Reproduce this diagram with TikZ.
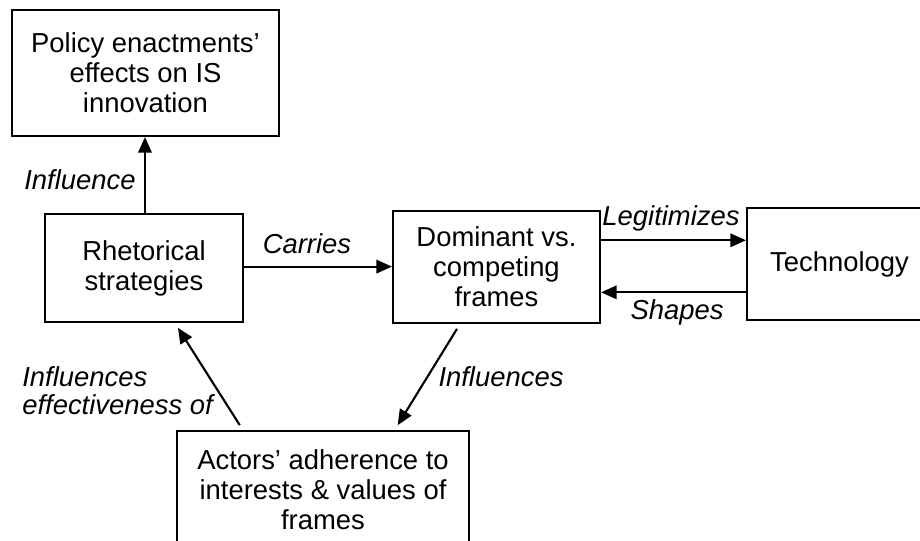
\documentclass[tikz,border=0pt]{standalone}
\usepackage{fontspec}
\setmainfont{Liberation Sans}
\usetikzlibrary{arrows.meta,positioning}
\tikzset{
    every node/.style={
        font=\fontsize{19.5}{21.3}\selectfont
    },
    block/.style={
        shape=rectangle,
        draw,
        line width=1.5pt,
        inner sep=0pt,
        align=center
    },
    lbl/.style={
        font=\fontsize{19.5}{20}\selectfont\itshape,
        inner sep=0pt
    },
    arr/.style={
        line width=1.5pt,
        -{Triangle[length=11pt,width=9.5pt]}
    }
}

\begin{document}
\begin{tikzpicture}[x=0.025cm,y=-0.025cm]
			\useasboundingbox (0,0) rectangle (920,540);
			\clip (0,0) rectangle (920,540);
			\node (policy) at (145.5, 73) [block, minimum width=6.675cm, minimum height=3.15cm] {Policy enactments'\\effects on IS\\innovation};
			\node (rhet) at (144, 268) [block, minimum width=4.95cm, minimum height=2.7cm] {Rhetorical\\strategies};
			\node (dom) at (496.5, 267) [block, minimum width=5.175cm, minimum height=2.8cm] {Dominant vs.\\competing\\frames};
			\node (tech) at (839.5, 264) [block, minimum width=4.625cm, minimum height=2.8cm] {Technology};
			\node (act) at (323, 490) [block, minimum width=7.3cm, minimum height=2.95cm] {Actors' adherence to\\interests \& values of\\frames};
			
			\coordinate (cr) at ([yshift=1pt]rhet.east);
			\coordinate (lg) at ([yshift=19pt]dom.east);
			\coordinate (sh) at ([yshift=-18pt]dom.east);
			
			\draw [arr] ([xshift=0.7pt]rhet.north) -- ([xshift=0.7pt]rhet.north |- policy.south);
			\draw [arr] (cr) -- (cr -| dom.west);
			\draw [arr] (lg) -- (lg -| tech.west);
			\draw [arr] (sh -| tech.west) -- (sh);
			\draw [arr, shorten <=4pt, shorten >=4pt] ([xshift=-57pt]act.north) -- ([xshift=22pt]rhet.south);
			\draw [arr, shorten <=4pt, shorten >=4pt] ([xshift=-26pt]dom.south) -- ([xshift=51pt]act.north);
			
			\node (infl) at (80, 180) [lbl] {Influence};
			\node (carr) at (307, 244) [lbl] {Carries};
			\node (legit) at (671, 218) [lbl] {Legitimizes};
			\node (shap) at (677, 312) [lbl] {Shapes};
			\node (effect) at (22, 391) [lbl, anchor=west, align=left] {Influences\\effectiveness of};
			\node (infls) at (501, 377) [lbl] {Influences};
\end{tikzpicture}
\end{document}
